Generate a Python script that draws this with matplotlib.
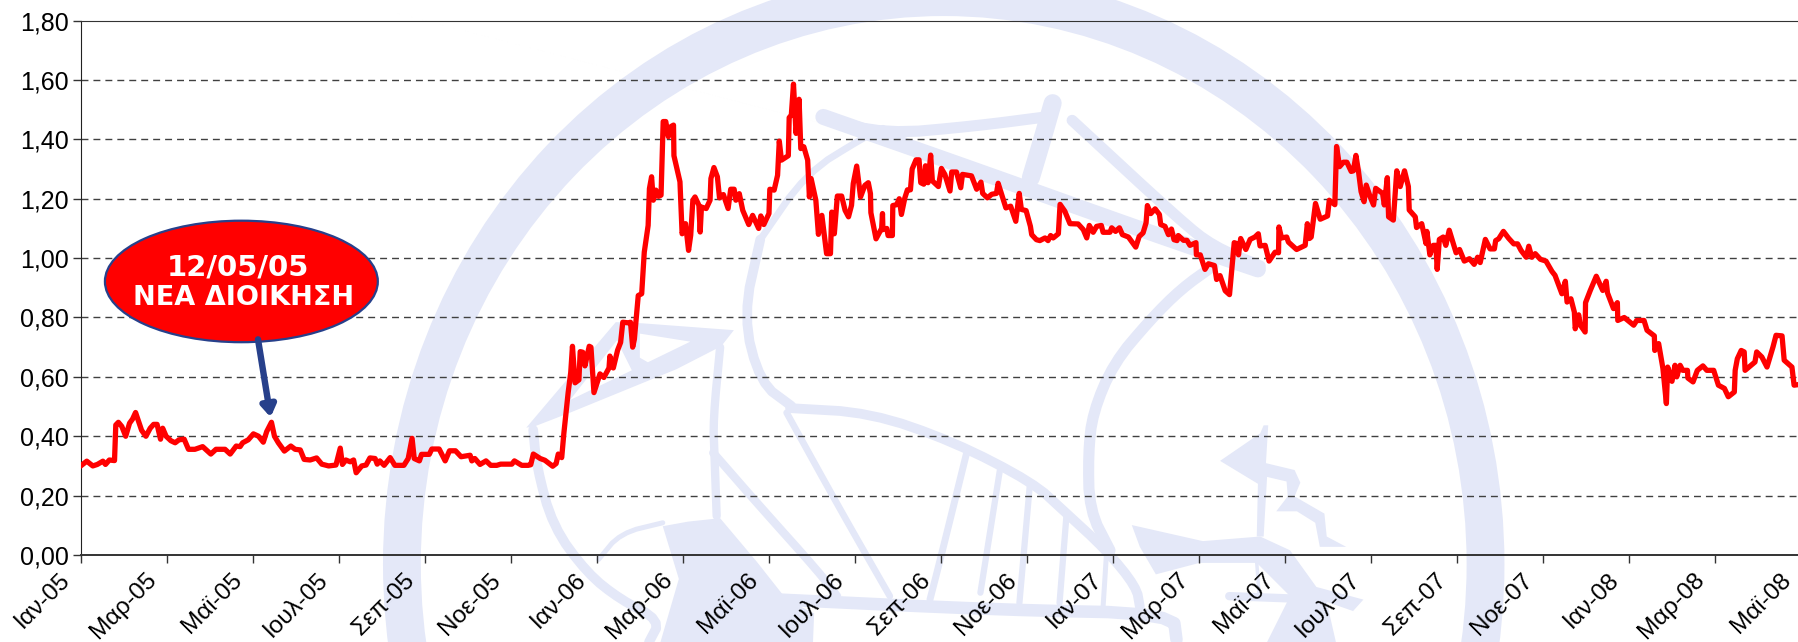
import matplotlib
matplotlib.use("Agg")
import matplotlib.pyplot as plt
from matplotlib.patches import Ellipse, Polygon
from matplotlib.transforms import ScaledTranslation
import numpy as np

plt.rcParams['font.family'] = ['Liberation Sans', 'DejaVu Sans']

# x in months after Jan-05
months = [0.01, 0.125, 0.265, 0.37, 0.50, 0.56, 0.65, 0.77, 0.80, 0.86, 0.94, 1.03, 1.12, 1.19, 1.26, 1.33, 1.40, 1.50,
          1.60, 1.68, 1.76, 1.84, 1.89, 1.97, 2.08, 2.18, 2.27, 2.39, 2.49, 2.64, 2.82, 3.01, 3.13, 3.34, 3.46, 3.60,
          3.69, 3.75, 3.88, 4.0, 4.12, 4.23, 4.31, 4.42, 4.49, 4.58, 4.72, 4.87, 4.97, 5.09, 5.18, 5.32, 5.47, 5.59,
          5.75, 5.92, 6.02, 6.07, 6.15, 6.25, 6.33, 6.39, 6.52, 6.62, 6.71, 6.83, 6.88,
          6.94, 7.04, 7.18, 7.29, 7.50, 7.60, 7.69, 7.74, 7.86, 7.91, 8.09, 8.15, 8.32, 8.46, 8.56, 8.70, 8.83, 9.04,
          9.08, 9.15, 9.27, 9.41, 9.52, 9.66, 9.75, 10.01, 10.07, 10.24, 10.39, 10.45, 10.51, 10.67, 10.78, 10.96,
          11.04, 11.09, 11.17, 11.22, 11.32, 11.38, 11.42, 11.48, 11.57, 11.60, 11.66, 11.71, 11.81, 11.85, 11.92,
          12.06, 12.15, 12.27, 12.29, 12.37, 12.47, 12.54, 12.59, 12.72, 12.77, 12.82, 12.86, 12.95, 13.03, 13.09,
          13.18, 13.21, 13.26, 13.30, 13.36, 13.42, 13.48, 13.53, 13.59, 13.65, 13.71, 13.77, 13.78, 13.92, 13.97,
          14.05, 14.12, 14.17, 14.22, 14.27, 14.36, 14.39, 14.42, 14.53, 14.62, 14.64, 14.71, 14.79, 14.84, 14.93,
          15.04, 15.10, 15.18, 15.22, 15.30, 15.38, 15.52, 15.61, 15.75, 15.80, 15.87, 15.99, 16.01, 16.11, 16.19,
          16.23, 16.28, 16.44, 16.46, 16.51, 16.56, 16.62, 16.69, 16.73, 16.80, 16.89, 16.93, 16.97, 17.08, 17.14,
          17.22, 17.33, 17.42, 17.45, 17.51, 17.58, 17.68, 17.76, 17.84, 17.91, 17.95, 18.03, 18.12, 18.22, 18.30,
          18.35, 18.36, 18.48, 18.61,
          18.63, 18.64, 18.73, 18.76, 18.86, 18.87, 18.96, 19.02, 19.07, 19.15, 19.21, 19.28, 19.32, 19.41, 19.48,
          19.52, 19.59, 19.63, 19.69, 19.75, 19.79, 19.93, 20.0, 20.08, 20.2, 20.24, 20.35, 20.45, 20.49, 20.70, 20.82,
          20.92, 20.96, 21.07, 21.17, 21.28, 21.32, 21.5, 21.61, 21.73, 21.81, 21.86, 21.97, 22.07, 22.10, 22.21,
          22.29, 22.41, 22.48, 22.54, 22.6, 22.72, 22.76, 22.87, 22.99, 23.18, 23.3, 23.38, 23.44, 23.53, 23.61,
          23.72, 23.76, 23.92, 23.96, 24.05, 24.14, 24.21, 24.35, 24.52, 24.6, 24.69, 24.76, 24.79, 24.87, 24.97,
          25.07, 25.1, 25.2, 25.28, 25.35, 25.41, 25.48, 25.51,
          25.63, 25.71, 25.78, 25.92, 25.93, 26.02, 26.13, 26.21, 26.35, 26.40, 26.48, 26.6, 26.7, 26.81, 26.87,
          26.91, 26.96, 27.08, 27.18, 27.29, 27.37, 27.41, 27.53, 27.62, 27.76, 27.84, 27.85, 27.91, 28.03, 28.07,
          28.26, 28.46, 28.51, 28.56, 28.6, 28.7, 28.81, 28.98, 29.02, 29.15, 29.19, 29.26, 29.35, 29.43, 29.53,
          29.58, 29.64, 29.70, 29.76, 29.83, 29.88, 29.97, 30.05, 30.1, 30.26, 30.3, 30.37, 30.4, 30.51, 30.59, 30.67,
          30.77, 30.86, 30.88, 31.02, 31.05, 31.17, 31.27, 31.29, 31.36, 31.44, 31.5, 31.53, 31.58, 31.67, 31.73,
          31.81, 31.97, 32.05, 32.16, 32.28, 32.39, 32.47, 32.53,
          32.65, 32.76, 32.86, 32.89, 32.96, 33.07, 33.19, 33.31, 33.4, 33.48, 33.6, 33.66, 33.73, 33.81, 33.93,
          34.06, 34.2, 34.27, 34.43, 34.51, 34.55, 34.64, 34.72, 34.74, 34.82, 34.86, 34.97, 34.98, 35.09, 35.23,
          35.38, 35.46, 35.49, 35.63, 35.72, 35.73, 35.88, 36.1, 36.17, 36.34, 36.41, 36.58, 36.59, 36.68, 36.78,
          36.86, 36.89, 36.99, 37.06, 37.1, 37.18, 37.24, 37.35, 37.36, 37.48, 37.58, 37.71, 37.8, 37.96, 38.07,
          38.21, 38.3, 38.44, 38.46, 38.51, 38.6, 38.67, 38.69, 38.92, 38.96, 39.08, 39.2, 39.34, 39.41, 39.55, 39.6,
          39.78, 39.83, 39.93]

prices = [.303, .316, .30, .305, .316, .305, .32, .318, .438, .447, .433, .40, .444, .458, .48, .45, .42, .40,
          .427, .44, .44, .39, .427, .40, .385, .378, .388, .39, .356, .356, .365, .34, .356, .356, .34, .367,
          .365, .378, .388, .408, .40, .38, .416, .447, .40, .378, .35, .367, .356, .354, .322, .32, .327, .306,
          .30, .303, .36, .305, .32, .314, .32, .277, .30, .303, .327, .325, .306,
          .317, .302, .328, .302, .302, .325, .393, .325, .317, .339, .339, .357, .357, .317, .351, .351, .331, .336,
          .317, .325, .305, .317, .302, .302, .306, .306, .317, .302, .302, .304, .34, .325, .319, .299,
          .308, .34, .328, .41, .547, .615, .703, .58, .59, .685, .683, .637, .703, .70, .547,
          .61, .598, .63, .67, .63, .69, .716, .784, .782, .784, .70, .727, .874, .88, 1.02,
          1.11, 1.234, 1.274, 1.195, 1.229, 1.208, 1.212, 1.46, 1.46, 1.409, 1.443, 1.448, 1.345, 1.257, 1.082,
          1.116, 1.026, 1.077, 1.195, 1.206, 1.178, 1.088, 1.172, 1.167, 1.195, 1.268, 1.305, 1.274, 1.203, 1.214,
          1.167, 1.232, 1.232, 1.195, 1.217, 1.161, 1.113, 1.144, 1.10, 1.142, 1.113, 1.15, 1.232, 1.229, 1.279,
          1.394, 1.33, 1.345, 1.473, 1.482, 1.586, 1.42, 1.535, 1.369, 1.375, 1.33, 1.206, 1.268, 1.195, 1.08,
          1.144, 1.015, 1.015, 1.155, 1.082, 1.209, 1.209, 1.161, 1.139, 1.178, 1.251, 1.31, 1.206, 1.245, 1.254,
          1.217, 1.153, 1.065, 1.10,
          1.15, 1.096, 1.10, 1.076, 1.076, 1.177, 1.18, 1.20, 1.147, 1.203, 1.23, 1.23, 1.30, 1.331, 1.331,
          1.254, 1.249, 1.311, 1.254, 1.347, 1.26, 1.241, 1.302, 1.282, 1.226, 1.29, 1.29, 1.237, 1.282, 1.277, 1.232,
          1.256, 1.218, 1.203, 1.215, 1.218, 1.252, 1.169, 1.175, 1.124, 1.218, 1.164, 1.16, 1.107, 1.079, 1.062,
          1.059, 1.068, 1.059, 1.076, 1.068, 1.082, 1.181, 1.158, 1.116, 1.115, 1.096, 1.068, 1.11, 1.087, 1.107,
          1.11, 1.087, 1.087, 1.102, 1.09, 1.102, 1.079, 1.071, 1.037, 1.073, 1.085, 1.119, 1.177, 1.15, 1.166,
          1.147, 1.113, 1.107, 1.079, 1.098, 1.062, 1.059, 1.076,
          1.06, 1.06, 1.043, 1.052, 1.011, 1.011, .962, .981, .975, .928, .941, .89, .877, 1.052, 1.049,
          1.011, 1.066, 1.029, 1.063, 1.071, 1.082, 1.041, 1.043, .99, 1.02, 1.018, 1.105, 1.068, 1.071, 1.054,
          1.029, 1.043, 1.116, 1.066, 1.071, 1.184, 1.131, 1.142, 1.195, 1.18, 1.376, 1.308, 1.323, 1.323, 1.292,
          1.294, 1.346, 1.292, 1.224, 1.19, 1.246, 1.207, 1.179, 1.235, 1.218, 1.179, 1.271, 1.139, 1.128, 1.294, 1.241,
          1.294, 1.241, 1.162, 1.139, 1.103, 1.116, 1.049, 1.09, 1.011, 1.043, 1.043, .962, 1.063, 1.071, 1.043,
          1.094, 1.018, 1.029, .99, .998, .979, 1.003, .985,
          1.063, 1.031, 1.031, 1.059, 1.065, 1.09, 1.067, 1.048, 1.048, 1.026, 1.003, 1.04, 1.003, 1.015, .996,
          .99, .955, .942, .88, .922, .852, .863, .818, .762, .809, .774, .751, .85, .891, .939,
          .891, .922, .883, .83, .85, .79, .80, .774, .79, .79, .757, .738, .689, .712, .628,
          .51, .633, .585, .639, .60, .639, .622, .622, .596, .583, .622, .637, .622, .622, .572,
          .561, .533, .549, .622, .661, .689, .684, .622, .65, .684, .667, .633, .701, .74, .738, .656,
          .633, .572, .574]

y_ticks = [0.0, 0.2, 0.4, 0.6, 0.8, 1.0, 1.2, 1.4, 1.6, 1.8]
y_labels = ['0,00', '0,20', '0,40', '0,60', '0,80', '1,00', '1,20', '1,40', '1,60', '1,80']
x_ticks = list(range(0, 41, 2))
x_labels = ['Ιαν-05', 'Μαρ-05', 'Μαϊ-05', 'Ιουλ-05', 'Σεπ-05', 'Νοε-05',
            'Ιαν-06', 'Μαρ-06', 'Μαϊ-06', 'Ιουλ-06', 'Σεπ-06', 'Νοε-06',
            'Ιαν-07', 'Μαρ-07', 'Μαϊ-07', 'Ιουλ-07', 'Σεπ-07', 'Νοε-07',
            'Ιαν-08', 'Μαρ-08', 'Μαϊ-08']

# watermark, on a 1568x560 canvas: (width in points, points)
logo_strokes = [
    (8, [(718, 103), (772, 117), (850, 110), (912, 102)]),
    (13, [(918, 90), (908, 125), (899, 155)]),
    (11.5, [(718, 102), (855, 150), (1000, 202), (1097, 235)]),
    (8, [(935, 105), (1029, 192), (1058, 215), (1099, 232)]),
    (5, [(770, 112), (753, 120), (703, 151), (663, 209)]),
    (7, [(663, 209), (648, 276), (663, 334), (690, 354)]),
    (7, [(689, 356), (759, 360), (831, 385), (901, 421), (927, 445), (965, 480), (991, 512), (994, 529)]),
    (6, [(628, 303), (622, 366), (623, 395), (625, 450)]),
    (6, [(622, 395), (663, 442), (715, 500), (730, 520)]),
    (4.8, [(686, 360), (733, 445), (776, 520)]),
    (7, [(465, 375), (468, 407), (482, 459), (512, 500), (541, 523), (576, 541), (566, 560)]),
    (3.6, [(522, 488), (541, 465), (578, 456)]),
    (5, [(843, 395), (820, 488), (811, 523)]),
    (4.5, [(872, 410), (855, 517)]),
    (4.5, [(898, 424), (889, 526)]),
    (4.5, [(930, 450), (924, 526)]),
    (3.6, [(965, 482), (962, 529)]),
    (8, [(1058, 232), (1030, 252), (1003, 279), (971, 317), (953, 360), (949, 395), (950, 445), (968, 480)]),
    (9, [(680, 523), (872, 532), (1023, 535), (1026, 558)]),
    (6, [(1072, 520), (1125, 522)]),
    (2.5, [(1096, 491), (1098, 518)]),
]
logo_fills = [
    [(459, 373), (537, 281), (560, 282), (640, 288), (629, 302), (590, 322), (497, 360), (466, 372)],
    [(578, 459), (600, 455), (628, 452), (660, 490), (686, 523), (710, 535), (709, 560), (576, 560), (592, 505)],
    [(987, 458), (1049, 472), (1099, 468), (1125, 480), (1148, 512), (1189, 523), (1180, 533), (1157, 525),
     (1165, 560), (1105, 560), (1125, 520), (1096, 491), (1046, 491), (1008, 501), (994, 477)],
    [(1102, 371), (1106, 371), (1104, 404), (1129, 410), (1134, 421), (1129, 433), (1155, 448), (1157, 468),
     (1174, 477), (1151, 477), (1147, 456), (1131, 446), (1113, 446), (1123, 433), (1122, 420), (1105, 416),
     (1102, 468), (1096, 468), (1097, 422), (1064, 402), (1099, 378)],
]
logo_holes = [
    [(558, 291), (602, 298), (565, 316), (558, 312)],
    [(538, 297), (551, 323), (497, 349)],
]
logo_color = '#E4E8F8'


def smooth(pts, rounds=2):
    # corner cutting, the ends stay where they are
    pts = np.array(pts, dtype=float)
    for _ in range(rounds):
        a = pts[:-1] * 0.75 + pts[1:] * 0.25
        b = pts[:-1] * 0.25 + pts[1:] * 0.75
        mid = np.empty((a.shape[0] * 2, 2))
        mid[0::2] = a
        mid[1::2] = b
        pts = np.vstack([pts[:1], mid, pts[-1:]])
    return pts


fig = plt.figure(figsize=(17.98, 6.42), dpi=100, facecolor='white')

# background layer for the watermark
bg = fig.add_axes([0, 0, 1, 1], zorder=0)
bg.set_xlim(0, 1568)
bg.set_ylim(560, 0)
bg.axis('off')
bg.add_patch(Ellipse((823, 492), 978, 1034, fc=logo_color, ec='none'))
bg.add_patch(Ellipse((823, 492), 912, 956, fc='white', ec='none'))
for pts in logo_fills:
    bg.add_patch(Polygon(pts, fc=logo_color, ec='none'))
for pts in logo_holes:
    bg.add_patch(Polygon(pts, fc='white', ec='none', zorder=1.5))
for width, pts in logo_strokes:
    line = smooth(pts)
    bg.plot(line[:, 0], line[:, 1], color=logo_color, lw=width, solid_capstyle='round')

ax = fig.add_axes([81.4 / 1798, 87 / 642, 1720 / 1798, 534.4 / 642], zorder=1)
ax.patch.set_alpha(0)
ax.set_xlim(0, 40)
ax.set_ylim(0, 1.8)
ax.set_yticks(y_ticks)
ax.set_yticklabels(y_labels, fontsize=18)
ax.set_xticks(x_ticks)
ax.set_xticklabels(x_labels, fontsize=17.5, rotation=45, ha='right', rotation_mode='anchor')
ax.tick_params(axis='y', length=6, width=1, pad=3, color='#333333')
ax.tick_params(axis='x', length=6, width=1, pad=7, color='#333333')
# tick_params resets the label transform, so the shift comes after it
shift = ScaledTranslation(-22 / 100, 4 / 100, fig.dpi_scale_trans)
for lbl in ax.get_xticklabels():
    lbl.set_transform(lbl.get_transform() + shift)
for tick in y_ticks[1:-1]:
    ax.axhline(tick, color='#404040', lw=1, dashes=(5, 3.6), zorder=1)
ax.spines['right'].set_visible(False)
ax.spines['top'].set_color('#333333')
ax.spines['left'].set_color('#222222')
ax.spines['bottom'].set_linewidth(1.4)
ax.spines['bottom'].set_color('#333333')

ax.plot(months, prices, color='#FF0000', lw=3.8, solid_joinstyle='round', zorder=3)

# callout on top of the chart
fg = fig.add_axes([0, 0, 1, 1], zorder=2)
fg.set_xlim(0, 1568)
fg.set_ylim(560, 0)
fg.axis('off')
fg.annotate('', xy=(236, 364), xytext=(225, 296),
            arrowprops=dict(arrowstyle='-|>,head_width=0.42,head_length=0.65', color='#27408B', lw=4.6,
                            shrinkA=0, shrinkB=0))
fg.add_patch(Ellipse((210.5, 245.5), 238, 106, fc='#FF0000', ec='#27408B', lw=1.6))
fg.text(207.5, 233, '12/05/05', color='white', fontsize=21, fontweight='bold', family='DejaVu Sans',
        ha='center', va='center')
fg.text(212, 260, 'ΝΕΑ ΔΙΟΙΚΗΣΗ', color='white', fontsize=19.5, fontweight='bold', family='DejaVu Sans',
        ha='center', va='center')

fig.savefig('out.png', dpi=100)
